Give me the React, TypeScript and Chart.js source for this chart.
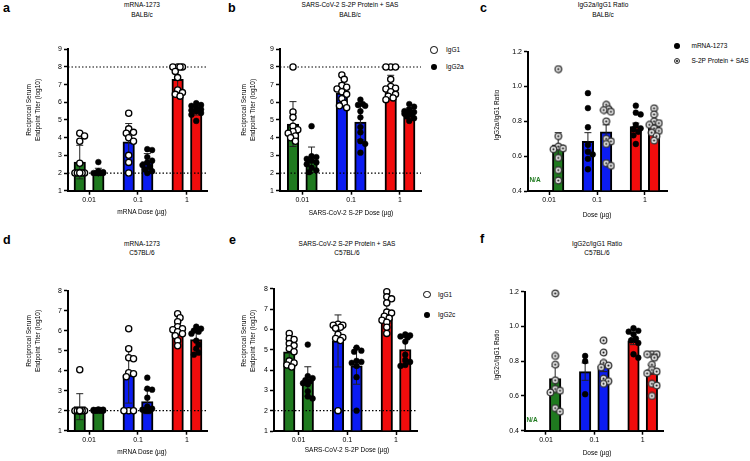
import React, { useEffect, useRef } from 'react';
import { Chart, registerables } from 'chart.js';
Chart.register(...registerables);

const FONT = "'Liberation Sans', Arial, Helvetica, sans-serif";
const GREEN = '#1f7a1f';
const BLUE = '#0b1cf2';
const RED = '#f20c0c';
const groupColors = [GREEN, BLUE, RED];

const doseLabels = ['0.01', '0.1', '1'];

// Panel a: mRNA-1273 BALB/c
const aIgG1Mean = [2.62, 3.76, 7.3];
const aIgG1Sd = [0.95, 1.04, 0.7];
const aIgG1Pts = [
  [4.25, 4.1, 3.8, 2.55, 2, 2, 2, 2, 2, 2],
  [5.38, 4.5, 4.3, 4.25, 4.0, 3.8, 3.0, 2.6, 2.0],
  [8, 8, 8, 8, 7.75, 7.4, 6.7, 6.55, 6.45, 6.35],
];
const aIgG2aMean = [2.09, 2.65, 5.56];
const aIgG2aSd = [0.18, 0.45, 0.28];
const aIgG2aPts = [
  [2.62, 2.1, 2.05, 2, 2, 2, 2, 2, 2, 2],
  [3.35, 3.3, 2.9, 2.7, 2.6, 2.45, 2.35, 2.2, 2.1, 2.0],
  [5.95, 5.85, 5.8, 5.7, 5.6, 5.55, 5.5, 5.4, 5.3, 4.95],
];

// Panel b: S-2P Protein + SAS BALB/c
const bIgG1Mean = [4.77, 6.53, 6.85];
const bIgG1Sd = [1.27, 0.55, 0.68];
const bIgG1Pts = [
  [8, 5.45, 5.15, 4.65, 4.45, 4.35, 4.25, 4.1, 4.0, 3.8],
  [7.55, 7.3, 6.95, 6.85, 6.75, 6.6, 6.45, 6.2, 5.95, 5.8, 5.7],
  [8, 8, 8, 7.3, 6.9, 6.8, 6.75, 6.6, 6.45, 6.35, 6.25, 6.15],
];
const bIgG2aMean = [2.75, 4.88, 5.4];
const bIgG2aSd = [0.72, 1.0, 0.28];
const bIgG2aPts = [
  [4.65, 2.95, 2.9, 2.8, 2.7, 2.6, 2.5, 2.3, 2.15, 2.05],
  [6.15, 5.9, 5.85, 5.8, 5.5, 5.15, 4.6, 4.3, 3.8, 3.65, 3.15],
  [5.9, 5.75, 5.6, 5.5, 5.45, 5.4, 5.35, 5.3, 5.2, 5.1, 4.95],
];

// Panel c: IgG2a/IgG1 ratio BALB/c
const cMrnaMean = [null, 0.685, 0.77];
const cMrnaErr = [null, 0.05, 0.02];
const cMrnaPts = [
  [],
  [0.962, 0.876, 0.766, 0.665, 0.625, 0.61, 0.585, 0.525],
  [0.89, 0.85, 0.84, 0.78, 0.76, 0.755, 0.74, 0.72, 0.67],
];
const cProtMean = [0.665, 0.74, 0.77];
const cProtErr = [0.07, 0.04, 0.02];
const cProtPts = [
  [1.1, 0.715, 0.655, 0.645, 0.64, 0.59, 0.52, 0.46],
  [0.895, 0.87, 0.865, 0.855, 0.8, 0.7, 0.685, 0.67, 0.56, 0.545],
  [0.875, 0.84, 0.8, 0.79, 0.78, 0.76, 0.745, 0.735, 0.715, 0.69],
];

// Panel d: mRNA-1273 C57BL/6
const dIgG1Mean = [2.2, 3.78, 5.95];
const dIgG1Sd = [0.65, 1.4, 0.47];
const dIgG1Pts = [
  [4.05, 2, 2, 2, 2, 2, 2, 2, 2, 2],
  [6.1, 5.1, 4.65, 4.6, 3.9, 3.85, 3.7, 2, 2, 2],
  [6.85, 6.65, 6.45, 6.2, 6.1, 6.05, 5.95, 5.85, 5.75, 5.5, 5.25],
];
const dIgG2cMean = [2.03, 2.45, 5.55];
const dIgG2cSd = [0.03, 0.6, 0.5];
const dIgG2cPts = [
  [2.06, 2.05, 2.04, 2.03, 2.02, 2, 2, 2, 2, 2],
  [3.65, 3.1, 3.05, 2.65, 2.2, 2.1, 2.05, 2, 2, 2],
  [6.2, 6.1, 6.0, 5.95, 5.85, 5.5, 5.3, 5.1, 4.9, 4.8],
];

// Panel e: S-2P Protein + SAS C57BL/6
const eIgG1Mean = [4.9, 5.43, 6.72];
const eIgG1Sd = [0.6, 1.28, 0.62];
const eIgG1Pts = [
  [5.8, 5.55, 5.5, 5.3, 5.2, 5.05, 4.9, 4.45, 4.35, 4.25, 4.15],
  [6.25, 6.2, 6.2, 6.1, 6.05, 5.75, 5.6, 5.55, 5.45, 2.0],
  [7.85, 7.6, 7.5, 7.3, 6.85, 6.8, 6.65, 6.55, 6.45, 6.35, 6.1, 5.8],
];
const eIgG2cMean = [3.44, 4.2, 5.0];
const eIgG2cSd = [0.72, 0.9, 0.6];
const eIgG2cPts = [
  [5.25, 3.7, 3.6, 3.5, 3.45, 3.35, 3.3, 2.95, 2.7, 2.6],
  [5.1, 4.95, 4.9, 4.45, 4.4, 4.35, 4.2, 3.65, 2.0],
  [5.75, 5.7, 5.65, 5.6, 5.4, 4.75, 4.5, 4.4, 4.25, 4.2],
];

// Panel f: IgG2c/IgG1 ratio C57BL/6
const fMrnaMean = [null, 0.74, 0.915];
const fMrnaErr = [null, 0.05, 0.02];
const fMrnaPts = [
  [],
  [0.83, 0.8, 0.61],
  [0.99, 0.975, 0.97, 0.955, 0.93, 0.92, 0.905, 0.84, 0.82],
];
const fProtMean = [0.7, 0.77, 0.75];
const fProtErr = [0.07, 0.03, 0.025];
const fProtPts = [
  [1.19, 0.83, 0.78, 0.69, 0.64, 0.63, 0.62, 0.53, 0.51],
  [0.92, 0.85, 0.79, 0.775, 0.765, 0.7, 0.685, 0.67],
  [0.84, 0.84, 0.84, 0.82, 0.78, 0.75, 0.74, 0.73, 0.67, 0.66, 0.6],
];

const titerTicks9 = [1, 2, 3, 4, 5, 6, 7, 8, 9];
const titerTicks8 = [1, 2, 3, 4, 5, 6, 7, 8];
const ratioTicks = [0.4, 0.6, 0.8, 1.0, 1.2];

type Style = 'open' | 'filled' | 'target';
type Series = { mean: (number | null)[]; err: (number | null)[]; pts: number[][]; off: number; style: Style };
type PanelCfg = {
  key: string;
  plotL: number; plotR: number; plotT: number; plotB: number;
  xMin: number; xMax: number; yMin: number; yMax: number;
  yTicks: number[]; dec: number; refs: number[];
  series: Series[];
};

const OFF = 0.19;

const panels: PanelCfg[] = [
  {
    key: 'a', plotL: 68, plotR: 207.5, plotT: 49.3, plotB: 190.7,
    xMin: -0.43, xMax: 2.42, yMin: 1, yMax: 9, yTicks: titerTicks9, dec: 0, refs: [2, 8],
    series: [
      { mean: aIgG1Mean, err: aIgG1Sd, pts: aIgG1Pts, off: -OFF, style: 'open' },
      { mean: aIgG2aMean, err: aIgG2aSd, pts: aIgG2aPts, off: OFF, style: 'filled' },
    ],
  },
  {
    key: 'b', plotL: 280, plotR: 421, plotT: 49.3, plotB: 190.7,
    xMin: -0.456, xMax: 2.43, yMin: 1, yMax: 9, yTicks: titerTicks9, dec: 0, refs: [2, 8],
    series: [
      { mean: bIgG1Mean, err: bIgG1Sd, pts: bIgG1Pts, off: -OFF, style: 'open' },
      { mean: bIgG2aMean, err: bIgG2aSd, pts: bIgG2aPts, off: OFF, style: 'filled' },
    ],
  },
  {
    key: 'c', plotL: 528, plotR: 667, plotT: 51.7, plotB: 191,
    xMin: -0.44, xMax: 2.46, yMin: 0.4, yMax: 1.2, yTicks: ratioTicks, dec: 1, refs: [],
    series: [
      { mean: cMrnaMean, err: cMrnaErr, pts: cMrnaPts, off: -OFF, style: 'filled' },
      { mean: cProtMean, err: cProtErr, pts: cProtPts, off: OFF, style: 'target' },
    ],
  },
  {
    key: 'd', plotL: 68, plotR: 207.5, plotT: 290.7, plotB: 430.7,
    xMin: -0.43, xMax: 2.42, yMin: 1, yMax: 8, yTicks: titerTicks8, dec: 0, refs: [2],
    series: [
      { mean: dIgG1Mean, err: dIgG1Sd, pts: dIgG1Pts, off: -OFF, style: 'open' },
      { mean: dIgG2cMean, err: dIgG2cSd, pts: dIgG2cPts, off: OFF, style: 'filled' },
    ],
  },
  {
    key: 'e', plotL: 274, plotR: 417, plotT: 288.7, plotB: 431,
    xMin: -0.503, xMax: 2.43, yMin: 1, yMax: 8, yTicks: titerTicks8, dec: 0, refs: [2],
    series: [
      { mean: eIgG1Mean, err: eIgG1Sd, pts: eIgG1Pts, off: -OFF, style: 'open' },
      { mean: eIgG2cMean, err: eIgG2cSd, pts: eIgG2cPts, off: OFF, style: 'filled' },
    ],
  },
  {
    key: 'f', plotL: 525, plotR: 663, plotT: 291.7, plotB: 430.7,
    xMin: -0.434, xMax: 2.42, yMin: 0.4, yMax: 1.2, yTicks: ratioTicks, dec: 1, refs: [],
    series: [
      { mean: fMrnaMean, err: fMrnaErr, pts: fMrnaPts, off: -OFF, style: 'filled' },
      { mean: fProtMean, err: fProtErr, pts: fProtPts, off: OFF, style: 'target' },
    ],
  },
];

function swarm(vals: number[], cx: number, kx: number, ky: number) {
  const D = 4.6, step = 2.4, maxOff = 4.8;
  const placed: { px: number; py: number }[] = [];
  const res: { x: number; y: number }[] = new Array(vals.length);
  const order = vals.map((_, i) => i).sort((a, b) => vals[b] - vals[a]);
  for (const i of order) {
    const py = -vals[i] * ky;
    let best = 0, bestD = -1, found = false;
    for (let k = 0; k * step <= maxOff + 1e-6 && !found; k++) {
      const cands = k === 0 ? [0] : [k * step, -k * step];
      for (const c of cands) {
        let md = Infinity;
        for (const p of placed) md = Math.min(md, Math.hypot(p.px - c, p.py - py));
        if (md >= D) { best = c; found = true; break; }
        if (md > bestD) { bestD = md; best = c; }
      }
    }
    placed.push({ px: best, py });
    res[i] = { x: cx + best / kx, y: vals[i] };
  }
  return res;
}

function makeTarget(): HTMLCanvasElement {
  const c = document.createElement('canvas');
  c.width = 9; c.height = 9;
  const g = c.getContext('2d')!;
  g.beginPath(); g.arc(4.5, 4.5, 3.3, 0, Math.PI * 2);
  g.fillStyle = '#e2e2e2'; g.fill();
  g.lineWidth = 1.3; g.strokeStyle = '#333'; g.stroke();
  g.beginPath(); g.arc(4.5, 4.5, 1.0, 0, Math.PI * 2);
  g.fillStyle = '#111'; g.fill();
  return c;
}

const errorBarPlugin = {
  id: 'errorBars',
  afterDatasetDraw(chart: any, args: any) {
    const ds = chart.data.datasets[args.index];
    if (!ds.errs) return;
    const ys = chart.scales.y;
    const ctx = chart.ctx;
    ctx.save();
    ctx.strokeStyle = '#222';
    ctx.lineWidth = 1;
    args.meta.data.forEach((el: any, i: number) => {
      const d = ds.data[i];
      const e = ds.errs[i];
      if (e == null) return;
      const x = el.x;
      const top = ys.getPixelForValue(d.y + e);
      const lowV = d.y - e;
      const bot = ys.getPixelForValue(Math.max(lowV, ys.min));
      ctx.beginPath();
      ctx.moveTo(x, top); ctx.lineTo(x, bot);
      ctx.moveTo(x - 3.5, top); ctx.lineTo(x + 3.5, top);
      if (lowV > ys.min) { ctx.moveTo(x - 3.5, bot); ctx.lineTo(x + 3.5, bot); }
      ctx.stroke();
    });
    ctx.restore();
  },
};

function geom(p: PanelCfg) {
  const cl = Math.floor(p.plotL - 32);
  const ct = Math.floor(p.plotT - 9);
  const cw = Math.ceil(p.plotR + 6) - cl;
  const ch = Math.ceil(p.plotB + 18) - ct;
  return { cl, ct, cw, ch, yW: p.plotL - cl, pt: p.plotT - ct, pr: cl + cw - p.plotR, xH: ct + ch - p.plotB };
}

function Panel({ p }: { p: PanelCfg }) {
  const ref = useRef<HTMLCanvasElement>(null);
  const g = geom(p);
  useEffect(() => {
    const kx = (p.plotR - p.plotL) / (p.xMax - p.xMin);
    const ky = (p.plotB - p.plotT) / (p.yMax - p.yMin);
    const target = makeTarget();
    const datasets: any[] = [];
    p.series.forEach((s) => {
      const data: any[] = [];
      const colors: string[] = [];
      const errs: (number | null)[] = [];
      s.mean.forEach((m, i) => {
        if (m == null) return;
        data.push({ x: i + s.off, y: m });
        colors.push(groupColors[i]);
        errs.push(s.err[i]);
      });
      datasets.push({
        type: 'bar', data, backgroundColor: colors, borderColor: '#000', borderWidth: 2,
        barThickness: 11.5, grouped: false, base: p.yMin, order: 10, errs,
      });
    });
    p.refs.forEach((v) => {
      datasets.push({
        type: 'line', data: [{ x: p.xMin, y: v }, { x: p.xMax, y: v }],
        borderColor: '#000', borderWidth: 1.2, borderDash: [1.5, 2], pointRadius: 0, order: 5,
      });
    });
    p.series.forEach((s, si) => {
      const pts: any[] = [];
      s.pts.forEach((vals, i) => {
        if (vals.length) pts.push(...swarm(vals, i + s.off, kx, ky));
      });
      const base: any = { type: 'line', data: pts, showLine: false, clip: false, order: 2 - si };
      if (s.style === 'open') Object.assign(base, { pointStyle: 'circle', pointRadius: 3.1, pointBackgroundColor: '#fff', pointBorderColor: '#000', pointBorderWidth: 1.3 });
      else if (s.style === 'filled') Object.assign(base, { pointStyle: 'circle', pointRadius: 2.9, pointBackgroundColor: '#000', pointBorderColor: '#000', pointBorderWidth: 0.5 });
      else Object.assign(base, { pointStyle: target, pointRadius: 4 });
      datasets.push(base);
    });
    const tickFont = { family: FONT, size: 7 };
    const chart = new Chart(ref.current!, {
      type: 'bar',
      data: { datasets },
      plugins: [errorBarPlugin],
      options: {
        responsive: false,
        animation: false,
        events: [],
        layout: { padding: { left: 0, top: g.pt, right: g.pr, bottom: 0 } },
        plugins: { legend: { display: false }, tooltip: { enabled: false } },
        scales: {
          x: {
            type: 'linear', min: p.xMin, max: p.xMax, offset: false,
            afterBuildTicks: (s: any) => { s.ticks = [0, 1, 2].map((v) => ({ value: v })); },
            afterFit: (s: any) => { s.height = g.xH; },
            ticks: {
              callback: (v: any) => doseLabels[Math.round(Number(v))] ?? '',
              font: tickFont, color: '#000', padding: 1, maxRotation: 0, autoSkip: false,
            },
            grid: { offset: false, drawOnChartArea: false, drawTicks: true, tickLength: 4, tickColor: '#000', tickWidth: 1.5 },
            border: { display: true, color: '#000', width: 2 },
          },
          y: {
            type: 'linear', min: p.yMin, max: p.yMax,
            afterBuildTicks: (s: any) => { s.ticks = p.yTicks.map((v) => ({ value: v })); },
            afterFit: (s: any) => { s.width = g.yW; },
            ticks: {
              callback: (v: any) => Number(v).toFixed(p.dec),
              font: tickFont, color: '#000', padding: 2,
            },
            grid: { drawOnChartArea: false, drawTicks: true, tickLength: 4, tickColor: '#000', tickWidth: 1.5 },
            border: { display: true, color: '#000', width: 2 },
          },
        },
      } as any,
    });
    return () => chart.destroy();
  }, []);
  return (
    <canvas
      ref={ref}
      width={g.cw}
      height={g.ch}
      style={{ position: 'absolute', left: g.cl, top: g.ct, width: g.cw, height: g.ch }}
    />
  );
}

const SMALL = 6.5;

function Txt({ x, y, children, size = SMALL, bold = false, color = '#000', lh = 10, rotate = false, align = 'center' }: any) {
  const tr = align === 'center' ? 'translate(-50%,-50%)' : 'translate(0,-50%)';
  return (
    <div
      style={{
        position: 'absolute', left: x, top: y, transform: tr + (rotate ? ' rotate(-90deg)' : ''),
        fontSize: size, fontWeight: bold ? 700 : 400, color, lineHeight: lh + 'px',
        whiteSpace: 'nowrap', textAlign: align === 'center' ? 'center' : 'left', fontFamily: FONT,
      }}
    >
      {children}
    </div>
  );
}

function Marker({ x, y, kind }: { x: number; y: number; kind: Style }) {
  const common: any = { position: 'absolute', borderRadius: '50%', boxSizing: 'border-box' };
  if (kind === 'open') return <div style={{ ...common, left: x - 3.8, top: y - 3.8, width: 7.6, height: 7.6, border: '1.5px solid #000', background: '#fff' }} />;
  if (kind === 'filled') return <div style={{ ...common, left: x - 2.9, top: y - 2.9, width: 5.8, height: 5.8, background: '#000' }} />;
  return (
    <div style={{ ...common, left: x - 3.4, top: y - 3.4, width: 6.8, height: 6.8, border: '1.3px solid #333', background: '#e2e2e2' }}>
      <div style={{ position: 'absolute', left: 1.1, top: 1.1, width: 2, height: 2, borderRadius: '50%', background: '#111' }} />
    </div>
  );
}

export default function App() {
  return (
    <div style={{ position: 'absolute', left: 0, top: 0, width: 750, height: 461, background: '#fff', overflow: 'hidden', fontFamily: FONT }}>
      {panels.map((p) => <Panel key={p.key} p={p} />)}

      {/* panel letters */}
      <Txt x={3} y={8} size={12.5} bold lh={13} align="left">a</Txt>
      <Txt x={228} y={8} size={12.5} bold lh={13} align="left">b</Txt>
      <Txt x={480} y={8} size={12.5} bold lh={13} align="left">c</Txt>
      <Txt x={3} y={240} size={12.5} bold lh={13} align="left">d</Txt>
      <Txt x={229} y={240} size={12.5} bold lh={13} align="left">e</Txt>
      <Txt x={480} y={239} size={12.5} bold lh={13} align="left">f</Txt>

      {/* titles */}
      <Txt x={142} y={10}>mRNA-1273<br />BALB/c</Txt>
      <Txt x={350} y={10}>SARS-CoV-2 S-2P Protein + SAS<br />BALB/c</Txt>
      <Txt x={603} y={10}>IgG2a/IgG1 Ratio<br />BALB/c</Txt>
      <Txt x={142} y={248} lh={9}>mRNA-1273<br />C57BL/6</Txt>
      <Txt x={347} y={248} lh={9}>SARS-CoV-2 S-2P Protein + SAS<br />C57BL/6</Txt>
      <Txt x={597} y={248} lh={9}>IgG2c/IgG1 Ratio<br />C57BL/6</Txt>

      {/* y titles */}
      <Txt x={33.3} y={110} rotate lh={8.5}>Reciprocal Serum<br />Endpoint Titer (log10)</Txt>
      <Txt x={247.5} y={110} rotate lh={8.5}>Reciprocal Serum<br />Endpoint Titer (log10)</Txt>
      <Txt x={497} y={115} rotate>IgG2a/IgG1 Ratio</Txt>
      <Txt x={33.3} y={341} rotate lh={8.5}>Reciprocal Serum<br />Endpoint Titer (log10)</Txt>
      <Txt x={247.5} y={341} rotate lh={8.5}>Reciprocal Serum<br />Endpoint Titer (log10)</Txt>
      <Txt x={497} y={355} rotate>IgG2c/IgG1 Ratio</Txt>

      {/* x titles */}
      <Txt x={142} y={212}>mRNA Dose (µg)</Txt>
      <Txt x={351} y={213}>SARS-CoV-2 S-2P Dose (µg)</Txt>
      <Txt x={597} y={215}>Dose (µg)</Txt>
      <Txt x={142} y={452}>mRNA Dose (µg)</Txt>
      <Txt x={347} y={450}>SARS-CoV-2 S-2P Dose (µg)</Txt>
      <Txt x={597} y={453}>Dose (µg)</Txt>

      {/* N/A */}
      <Txt x={535} y={180} bold color={GREEN}>N/A</Txt>
      <Txt x={532} y={420} bold color={GREEN}>N/A</Txt>

      {/* legends */}
      <Marker x={434} y={50} kind="open" />
      <Txt x={446} y={50} align="left">IgG1</Txt>
      <Marker x={434} y={67} kind="filled" />
      <Txt x={446} y={67} align="left">IgG2a</Txt>

      <Marker x={677} y={46} kind="filled" />
      <Txt x={691.5} y={46} align="left">mRNA-1273</Txt>
      <Marker x={677} y={61} kind="target" />
      <Txt x={691.5} y={61} align="left">S-2P Protein + SAS</Txt>

      <Marker x={427} y={294.5} kind="open" />
      <Txt x={438} y={294.5} align="left">IgG1</Txt>
      <Marker x={427} y={315} kind="filled" />
      <Txt x={438} y={315} align="left">IgG2c</Txt>
    </div>
  );
}
